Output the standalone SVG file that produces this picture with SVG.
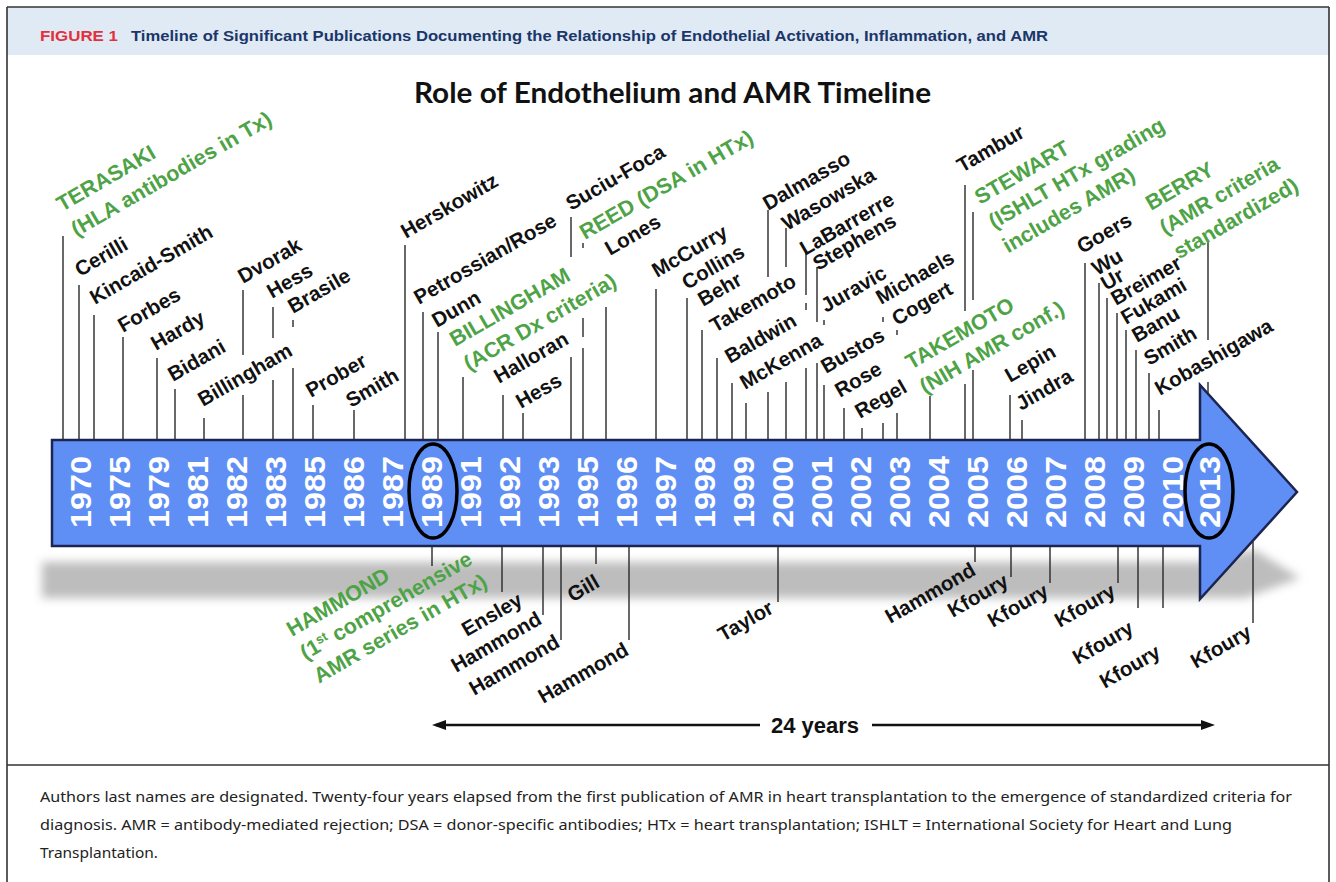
<svg xmlns="http://www.w3.org/2000/svg" width="1336" height="882" viewBox="0 0 1336 882">
<style>
.lb{font-family:"Liberation Sans",Arial,sans-serif;font-weight:bold;font-size:20.5px;fill:#111}
.gr{font-family:"Liberation Sans",Arial,sans-serif;font-weight:bold;font-size:21.5px;fill:#4ea346}
.tk{stroke:#2a2a2a;stroke-width:1.4;fill:none}
.yr{font-family:"Liberation Sans",Arial,sans-serif;font-weight:bold;font-size:30px;fill:#fff;text-anchor:middle}
.end{text-anchor:end}
.cap{font-family:"Noto Sans","Open Sans",sans-serif;font-size:15px;fill:#222}
</style>
<defs>
<filter id="blur" x="-5%" y="-50%" width="110%" height="200%"><feGaussianBlur stdDeviation="5"/></filter>
</defs>
<rect x="0" y="0" width="1336" height="882" fill="#fff"/>
<g id="frame">
<rect x="7" y="7" width="1322" height="48" fill="#e0eaf5"/>
<path d="M7,7 H1329 M7,7 V882 M1329,7 V882 M7,765 H1329" stroke="#333" stroke-width="1.6" fill="none"/>
<text x="40" y="41" font-family="Liberation Sans,Arial,sans-serif" font-weight="bold" font-size="14.5" fill="#e2313c" textLength="78" lengthAdjust="spacingAndGlyphs">FIGURE 1</text>
<text x="131" y="41" font-family="Liberation Sans,Arial,sans-serif" font-weight="bold" font-size="14.5" fill="#1b3668" textLength="917" lengthAdjust="spacingAndGlyphs">Timeline of Significant Publications Documenting the Relationship of Endothelial Activation, Inflammation, and AMR</text>
</g>
<g id="title"><text x="414" y="103" font-family="Lato,'Liberation Sans',sans-serif" font-weight="bold" font-size="29" fill="#111" textLength="517" lengthAdjust="spacingAndGlyphs">Role of Endothelium and AMR Timeline</text></g>

<g id="shadow"><polygon points="42,562 1200,562 1255,550 1300,578 1245,598 42,598" fill="#bdbdbd" filter="url(#blur)"/></g>

<g id="timeline-arrow">
<path d="M52,440 H1200 V385 L1297,492 L1200,599 V546 H52 Z" fill="#5f8ff5" stroke="#1c2452" stroke-width="2.5" stroke-linejoin="miter"/>
<g class="yr">
<text transform="translate(90.5,492) rotate(-90)" textLength="72" lengthAdjust="spacingAndGlyphs">1970</text>
<text transform="translate(129.5,492) rotate(-90)" textLength="72" lengthAdjust="spacingAndGlyphs">1975</text>
<text transform="translate(168.5,492) rotate(-90)" textLength="72" lengthAdjust="spacingAndGlyphs">1979</text>
<text transform="translate(207.5,492) rotate(-90)" textLength="72" lengthAdjust="spacingAndGlyphs">1981</text>
<text transform="translate(246.5,492) rotate(-90)" textLength="72" lengthAdjust="spacingAndGlyphs">1982</text>
<text transform="translate(285.5,492) rotate(-90)" textLength="72" lengthAdjust="spacingAndGlyphs">1983</text>
<text transform="translate(324.5,492) rotate(-90)" textLength="72" lengthAdjust="spacingAndGlyphs">1985</text>
<text transform="translate(363.5,492) rotate(-90)" textLength="72" lengthAdjust="spacingAndGlyphs">1986</text>
<text transform="translate(402.5,492) rotate(-90)" textLength="72" lengthAdjust="spacingAndGlyphs">1987</text>
<text transform="translate(441.5,492) rotate(-90)" textLength="72" lengthAdjust="spacingAndGlyphs">1989</text>
<text transform="translate(480.5,492) rotate(-90)" textLength="72" lengthAdjust="spacingAndGlyphs">1991</text>
<text transform="translate(519.5,492) rotate(-90)" textLength="72" lengthAdjust="spacingAndGlyphs">1992</text>
<text transform="translate(558.5,492) rotate(-90)" textLength="72" lengthAdjust="spacingAndGlyphs">1993</text>
<text transform="translate(597.5,492) rotate(-90)" textLength="72" lengthAdjust="spacingAndGlyphs">1995</text>
<text transform="translate(636.5,492) rotate(-90)" textLength="72" lengthAdjust="spacingAndGlyphs">1996</text>
<text transform="translate(675.5,492) rotate(-90)" textLength="72" lengthAdjust="spacingAndGlyphs">1997</text>
<text transform="translate(714.5,492) rotate(-90)" textLength="72" lengthAdjust="spacingAndGlyphs">1998</text>
<text transform="translate(753.5,492) rotate(-90)" textLength="72" lengthAdjust="spacingAndGlyphs">1999</text>
<text transform="translate(792.5,492) rotate(-90)" textLength="72" lengthAdjust="spacingAndGlyphs">2000</text>
<text transform="translate(831.5,492) rotate(-90)" textLength="72" lengthAdjust="spacingAndGlyphs">2001</text>
<text transform="translate(870.5,492) rotate(-90)" textLength="72" lengthAdjust="spacingAndGlyphs">2002</text>
<text transform="translate(909.5,492) rotate(-90)" textLength="72" lengthAdjust="spacingAndGlyphs">2003</text>
<text transform="translate(948.5,492) rotate(-90)" textLength="72" lengthAdjust="spacingAndGlyphs">2004</text>
<text transform="translate(987.5,492) rotate(-90)" textLength="72" lengthAdjust="spacingAndGlyphs">2005</text>
<text transform="translate(1026.5,492) rotate(-90)" textLength="72" lengthAdjust="spacingAndGlyphs">2006</text>
<text transform="translate(1065.5,492) rotate(-90)" textLength="72" lengthAdjust="spacingAndGlyphs">2007</text>
<text transform="translate(1104.5,492) rotate(-90)" textLength="72" lengthAdjust="spacingAndGlyphs">2008</text>
<text transform="translate(1143.5,492) rotate(-90)" textLength="72" lengthAdjust="spacingAndGlyphs">2009</text>
<text transform="translate(1182.5,492) rotate(-90)" textLength="72" lengthAdjust="spacingAndGlyphs">2010</text>
<text transform="translate(1219.5,492) rotate(-90)" textLength="72" lengthAdjust="spacingAndGlyphs">2013</text>
</g>
<ellipse cx="433" cy="491" rx="24" ry="47" fill="none" stroke="#000" stroke-width="3.5"/>
<ellipse cx="1209" cy="491" rx="24" ry="47" fill="none" stroke="#000" stroke-width="3.5"/>
</g>

<g id="connectors" class="tk">
<path d="M63,236V440 M79,285V440 M94,315V440 M123,337V440 M157,358V440 M175,389V440 M204,418V440 M243,290V355 M243,395V440 M273,307V338 M273,380V440 M293,320V327 M293,368V440 M313,405V440 M354,410V440 M405,245V440 M423,312V440 M438,332V440 M463,377V440 M503,395V440 M523,413V440 M571,217V257 M571,357V440 M583,243V248 M583,318V337 M583,348V440 M606,307V440 M656,289V440 M687,298V440 M702,330V440 M717,358V440 M732,383V440 M746,403V440 M768,210V277 M768,392V440 M786,228V267 M786,382V440 M806,252V295 M806,303V310 M806,368V440 M817,267V322 M817,363V440 M824,320V325 M824,385V440 M844,408V440 M862,428V440 M883,317V322 M883,423V440 M897,330V335 M897,413V440 M930,396V440 M965,185V311 M965,384V440 M973,212V300 M973,370V440 M1010,395V440 M1022,420V440 M1085,263V440 M1099,283V440 M1107,298V440 M1117,313V440 M1126,330V440 M1136,350V440 M1149,373V440 M1159,410V440 M1208,242V340 M1208,382V395"/>
<path d="M432,547V566 M502,547V592 M543,547V615 M561,547V640 M596,547V564 M629,547V640 M778,547V602 M975,547V562 M1011,547V577 M1050,547V583 M1118,547V583 M1138,547V608 M1163,547V608 M1253,542V623"/>
</g>

<g id="n-terasaki"><text class="gr" transform="translate(62,212) rotate(-30)">TERASAKI<tspan x="0" dy="29">(HLA antibodies in Tx)</tspan></text></g>
<g id="n-cerilli"><text class="lb" transform="translate(80,277) rotate(-30)">Cerilli</text></g>
<g id="n-kincaid"><text class="lb" transform="translate(95,305) rotate(-30)">Kincaid-Smith</text></g>
<g id="n-forbes"><text class="lb" transform="translate(123,333) rotate(-30)">Forbes</text></g>
<g id="n-hardy"><text class="lb" transform="translate(156,351) rotate(-30)">Hardy</text></g>
<g id="n-bidani"><text class="lb" transform="translate(173,382) rotate(-30)">Bidani</text></g>
<g id="n-billingham"><text class="lb" transform="translate(203,407) rotate(-30)">Billingham</text></g>
<g id="n-dvorak"><text class="lb" transform="translate(243,284) rotate(-30)">Dvorak</text></g>
<g id="n-hess1983"><text class="lb" transform="translate(272,299) rotate(-30)">Hess</text></g>
<g id="n-brasile"><text class="lb" transform="translate(293,314) rotate(-30)">Brasile</text></g>
<g id="n-prober"><text class="lb" transform="translate(311,398) rotate(-30)">Prober</text></g>
<g id="n-smith1986"><text class="lb" transform="translate(351,408) rotate(-30)">Smith</text></g>
<g id="n-herskowitz"><text class="lb" transform="translate(406,239) rotate(-30)">Herskowitz</text></g>
<g id="n-petrossian"><text class="lb" transform="translate(419,305) rotate(-30)">Petrossian/Rose</text></g>
<g id="n-dunn"><text class="lb" transform="translate(437,328) rotate(-30)">Dunn</text></g>
<g id="n-billingham-acr"><text class="gr" transform="translate(455,347) rotate(-30)">BILLINGHAM<tspan x="0" dy="28">(ACR Dx criteria)</tspan></text></g>
<g id="n-halloran"><text class="lb" transform="translate(499,384) rotate(-30)">Halloran</text></g>
<g id="n-hess1993"><text class="lb" transform="translate(521,409) rotate(-30)">Hess</text></g>
<g id="n-suciu"><text class="lb" transform="translate(571,211) rotate(-30)">Suciu-Foca</text></g>
<g id="n-reed"><text class="gr" transform="translate(585,240) rotate(-30)">REED (DSA in HTx)</text></g>
<g id="n-lones"><text class="lb" transform="translate(610,256) rotate(-30)">Lones</text></g>
<g id="n-mccurry"><text class="lb" transform="translate(657,278) rotate(-30)">McCurry</text></g>
<g id="n-collins"><text class="lb" transform="translate(687,290) rotate(-30)">Collins</text></g>
<g id="n-behr"><text class="lb" transform="translate(703,307) rotate(-30)">Behr</text></g>
<g id="n-takemoto1999"><text class="lb" transform="translate(715,333) rotate(-30)">Takemoto</text></g>
<g id="n-baldwin"><text class="lb" transform="translate(730,364) rotate(-30)">Baldwin</text></g>
<g id="n-mckenna"><text class="lb" transform="translate(745,390) rotate(-30)">McKenna</text></g>
<g id="n-dalmasso"><text class="lb" transform="translate(768,211) rotate(-30)">Dalmasso</text></g>
<g id="n-wasowska"><text class="lb" transform="translate(787,231) rotate(-30)">Wasowska</text></g>
<g id="n-labarrerre"><text class="lb" transform="translate(805,256) rotate(-30)">LaBarrerre</text></g>
<g id="n-stephens"><text class="lb" transform="translate(818,271) rotate(-30)">Stephens</text></g>
<g id="n-juravic"><text class="lb" transform="translate(826,313) rotate(-30)">Juravic</text></g>
<g id="n-bustos"><text class="lb" transform="translate(826,374) rotate(-30)">Bustos</text></g>
<g id="n-rose"><text class="lb" transform="translate(840,398) rotate(-30)">Rose</text></g>
<g id="n-regel"><text class="lb" transform="translate(860,419) rotate(-30)">Regel</text></g>
<g id="n-michaels"><text class="lb" transform="translate(881,305) rotate(-30)">Michaels</text></g>
<g id="n-cogert"><text class="lb" transform="translate(897,326) rotate(-30)">Cogert</text></g>
<g id="n-takemoto-nih"><text class="gr" transform="translate(911,370) rotate(-30)">TAKEMOTO<tspan x="0" dy="28">(NIH AMR conf.)</tspan></text></g>
<g id="n-tambur"><text class="lb" transform="translate(962,173) rotate(-30)">Tambur</text></g>
<g id="n-stewart"><text class="gr" transform="translate(980,205) rotate(-30)">STEWART<tspan x="0" dy="28">(ISHLT HTx grading</tspan><tspan x="0" dy="28">includes AMR)</tspan></text></g>
<g id="n-lepin"><text class="lb" transform="translate(1010,383) rotate(-30)">Lepin</text></g>
<g id="n-jindra"><text class="lb" transform="translate(1021,411) rotate(-30)">Jindra</text></g>
<g id="n-goers"><text class="lb" transform="translate(1082,254) rotate(-30)">Goers</text></g>
<g id="n-wu"><text class="lb" transform="translate(1097,276) rotate(-30)">Wu</text></g>
<g id="n-ur"><text class="lb" transform="translate(1106,291) rotate(-30)">Ur</text></g>
<g id="n-breimer"><text class="lb" transform="translate(1116,306) rotate(-30)">Breimer</text></g>
<g id="n-fukami"><text class="lb" transform="translate(1126,325) rotate(-30)">Fukami</text></g>
<g id="n-banu"><text class="lb" transform="translate(1137,343) rotate(-30)">Banu</text></g>
<g id="n-smith2010"><text class="lb" transform="translate(1149,366) rotate(-30)">Smith</text></g>
<g id="n-kobashigawa"><text class="lb" transform="translate(1160,396) rotate(-30)">Kobashigawa</text></g>
<g id="n-berry"><text class="gr" transform="translate(1151,211) rotate(-30)">BERRY<tspan x="0" dy="28">(AMR criteria</tspan><tspan x="0" dy="28">standardized)</tspan></text></g>

<g id="n-hammond-1989"><text class="gr" transform="translate(292,637) rotate(-30)">HAMMOND<tspan x="0" dy="27">(1<tspan font-size="13" baseline-shift="super">st</tspan> comprehensive</tspan><tspan x="0" dy="27">AMR series in HTx)</tspan></text></g>
<g id="n-ensley"><text class="lb end" transform="translate(524,604) rotate(-30)">Ensley</text></g>
<g id="n-hammond-a"><text class="lb end" transform="translate(543,623) rotate(-30)">Hammond</text></g>
<g id="n-hammond-b"><text class="lb end" transform="translate(561,646) rotate(-30)">Hammond</text></g>
<g id="n-gill"><text class="lb end" transform="translate(601,586) rotate(-30)">Gill</text></g>
<g id="n-hammond-c"><text class="lb end" transform="translate(630,654) rotate(-30)">Hammond</text></g>
<g id="n-taylor"><text class="lb end" transform="translate(775,612) rotate(-30)">Taylor</text></g>
<g id="n-hammond-2005"><text class="lb end" transform="translate(977,574) rotate(-30)">Hammond</text></g>
<g id="n-kfoury-1"><text class="lb end" transform="translate(1010,585) rotate(-30)">Kfoury</text></g>
<g id="n-kfoury-2"><text class="lb end" transform="translate(1050,595) rotate(-30)">Kfoury</text></g>
<g id="n-kfoury-3"><text class="lb end" transform="translate(1117,595) rotate(-30)">Kfoury</text></g>
<g id="n-kfoury-4"><text class="lb end" transform="translate(1135,632) rotate(-30)">Kfoury</text></g>
<g id="n-kfoury-5"><text class="lb end" transform="translate(1162,656) rotate(-30)">Kfoury</text></g>
<g id="n-kfoury-6"><text class="lb end" transform="translate(1253,636) rotate(-30)">Kfoury</text></g>

<g id="span-24">
<path d="M436,725 H760 M872,725 H1210" stroke="#111" stroke-width="2.5" fill="none"/>
<path d="M432,725 L446,720 L446,730 Z M1215,725 L1201,720 L1201,730 Z" fill="#111"/>
<text x="815" y="733" text-anchor="middle" font-family="Liberation Sans,Arial,sans-serif" font-weight="bold" font-size="22" fill="#111">24 years</text>
</g>

<g id="caption" class="cap">
<text x="40" y="802" textLength="1252" lengthAdjust="spacingAndGlyphs">Authors last names are designated. Twenty-four years elapsed from the first publication of AMR in heart transplantation to the emergence of standardized criteria for</text>
<text x="40" y="830" textLength="1192" lengthAdjust="spacingAndGlyphs">diagnosis. AMR = antibody-mediated rejection; DSA = donor-specific antibodies; HTx = heart transplantation; ISHLT = International Society for Heart and Lung</text>
<text x="40" y="858" textLength="118" lengthAdjust="spacingAndGlyphs">Transplantation.</text>
</g>
</svg>
